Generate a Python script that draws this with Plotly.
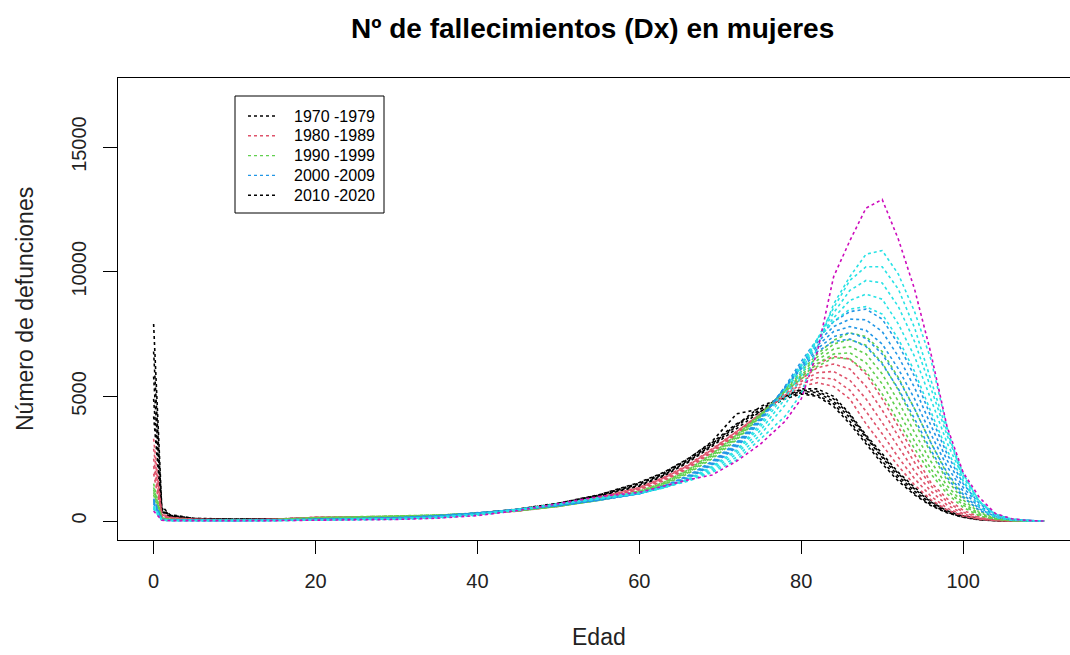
import plotly.graph_objects as go

# Ages (x axis, years of age)
ages = [0, 1, 2, 5, 10, 15, 20, 25, 30, 35, 40, 45, 50, 55,
        60, 63, 66, 69, 72, 75, 78,
        80, 82, 84, 86, 88, 90, 92, 94, 96, 98, 100, 102, 104, 106, 108, 110]

# Deaths (Dx) among women by age, one list per year
d1970 = [7900, 600, 260, 110, 75, 85, 110, 120, 150, 210, 320, 480, 720, 1050,
         1550, 1950, 2500, 3150, 3900, 4400, 4900,
         5100, 5000, 4600, 3900, 3100, 2300, 1600, 1050, 620, 330, 150, 50, 15, 4, 1, 0]
d1972 = [6800, 520, 230, 100, 70, 85, 115, 125, 150, 210, 315, 470, 710, 1040,
         1520, 1930, 2480, 3200, 4300, 4500, 4950,
         5150, 5050, 4700, 4000, 3200, 2400, 1700, 1100, 660, 350, 160, 55, 16, 4, 1, 0]
d1974 = [5800, 460, 210, 95, 65, 82, 118, 128, 150, 205, 310, 460, 700, 1030,
         1480, 1880, 2430, 3100, 3850, 4600, 5000,
         5200, 5150, 4800, 4150, 3350, 2550, 1800, 1200, 720, 380, 180, 65, 18, 5, 1, 0]
d1976 = [4900, 420, 195, 92, 62, 80, 120, 130, 150, 200, 305, 450, 690, 1010,
         1440, 1840, 2390, 3050, 3800, 4500, 5050,
         5250, 5200, 4900, 4250, 3400, 2600, 1900, 1280, 770, 410, 190, 70, 20, 5, 1, 0]
d1978 = [4200, 380, 180, 90, 60, 80, 120, 130, 150, 200, 300, 440, 680, 1000,
         1400, 1800, 2350, 3000, 3700, 4400, 5000,
         5300, 5300, 5000, 4300, 3450, 2700, 1950, 1350, 820, 440, 210, 80, 25, 6, 1, 0]

d1980 = [3300, 300, 150, 75, 50, 70, 140, 150, 160, 200, 290, 420, 640, 950,
         1350, 1750, 2250, 2900, 3600, 4300, 5000,
         5400, 5550, 5400, 4900, 3900, 3050, 2200, 1450, 860, 440, 190, 65, 18, 4, 1, 0]
d1982 = [2900, 260, 135, 70, 48, 68, 145, 152, 162, 202, 288, 415, 630, 935,
         1330, 1720, 2220, 2870, 3580, 4300, 5050,
         5500, 5750, 5700, 5250, 4400, 3500, 2550, 1700, 1000, 520, 230, 80, 22, 5, 1, 0]
d1984 = [2500, 230, 120, 65, 45, 65, 148, 155, 165, 205, 285, 410, 615, 915,
         1300, 1690, 2180, 2830, 3540, 4300, 5100,
         5600, 5950, 6000, 5650, 4900, 3950, 2950, 2000, 1200, 650, 290, 105, 30, 7, 1, 0]
d1986 = [2200, 200, 110, 60, 42, 62, 150, 158, 168, 208, 282, 405, 600, 890,
         1270, 1650, 2140, 2790, 3500, 4300, 5150,
         5700, 6150, 6300, 6100, 5400, 4450, 3400, 2350, 1420, 780, 360, 130, 38, 9, 2, 0]
d1988 = [1900, 180, 100, 55, 40, 60, 150, 160, 170, 210, 280, 400, 590, 870,
         1250, 1600, 2100, 2750, 3450, 4300, 5200,
         5800, 6300, 6600, 6500, 5900, 4900, 3800, 2700, 1550, 900, 430, 160, 48, 12, 2, 0]

d1990 = [1500, 130, 70, 45, 35, 58, 140, 170, 200, 240, 300, 410, 590, 850,
         1200, 1550, 2050, 2700, 3450, 4300, 5200,
         5700, 6200, 6550, 6500, 6000, 5100, 4000, 2900, 1900, 1100, 550, 210, 65, 17, 3, 0]
d1992 = [1350, 120, 65, 42, 33, 55, 135, 165, 195, 238, 305, 415, 592, 845,
         1185, 1530, 2020, 2660, 3400, 4270, 5220,
         5780, 6320, 6700, 6750, 6350, 5500, 4400, 3200, 2100, 1250, 640, 250, 78, 20, 4, 0]
d1994 = [1250, 110, 60, 40, 30, 52, 125, 150, 185, 235, 310, 420, 595, 840,
         1170, 1500, 1980, 2620, 3350, 4250, 5250,
         5850, 6450, 6900, 7000, 6700, 5900, 4800, 3550, 2400, 1420, 730, 290, 90, 24, 5, 0]
d1996 = [1150, 100, 55, 36, 28, 48, 110, 135, 170, 232, 315, 425, 598, 835,
         1150, 1470, 1940, 2560, 3300, 4220, 5280,
         5920, 6580, 7100, 7280, 7050, 6350, 5250, 3950, 2750, 1650, 850, 340, 105, 28, 6, 1]
d1998 = [1050, 90, 50, 33, 25, 45, 100, 120, 160, 230, 320, 430, 600, 830,
         1130, 1450, 1900, 2500, 3250, 4200, 5300,
         6000, 6700, 7250, 7550, 7400, 6800, 5750, 4500, 3150, 1900, 990, 400, 125, 33, 7, 1]

d2000 = [900, 75, 40, 28, 22, 40, 90, 105, 140, 220, 330, 450, 610, 830,
         1100, 1400, 1820, 2400, 3150, 4150, 5350,
         6100, 6800, 7200, 7300, 7000, 6300, 5300, 4100, 2850, 1750, 950, 430, 150, 45, 10, 1]
d2002 = [850, 70, 37, 26, 21, 38, 83, 98, 132, 212, 322, 455, 620, 838,
         1100, 1390, 1790, 2360, 3100, 4120, 5360,
         6170, 6920, 7400, 7550, 7330, 6700, 5700, 4500, 3150, 1950, 1070, 490, 175, 52, 12, 2]
d2004 = [800, 65, 35, 25, 20, 35, 75, 92, 125, 202, 315, 460, 630, 847,
         1100, 1380, 1760, 2320, 3060, 4080, 5370,
         6240, 7040, 7600, 7800, 7650, 7100, 6100, 4900, 3500, 2200, 1200, 550, 200, 60, 14, 2]
d2006 = [750, 60, 32, 23, 19, 32, 68, 86, 118, 192, 308, 465, 640, 858,
         1100, 1365, 1730, 2290, 3000, 4040, 5390,
         6320, 7170, 7800, 8100, 8070, 7600, 6600, 5350, 3850, 2450, 1350, 620, 230, 70, 16, 3]
d2008 = [700, 55, 30, 22, 18, 30, 60, 80, 110, 180, 300, 470, 650, 870,
         1100, 1350, 1700, 2250, 2950, 4000, 5400,
         6400, 7300, 8000, 8400, 8500, 8100, 7100, 5800, 4200, 2700, 1500, 700, 260, 80, 18, 3]

d2010 = [600, 45, 25, 18, 15, 25, 50, 65, 95, 160, 290, 470, 670, 890,
         1100, 1330, 1680, 2200, 2850, 3900, 5300,
         6300, 7300, 8000, 8500, 8600, 8300, 7300, 6000, 4400, 2850, 1600, 760, 280, 85, 20, 3]
d2012 = [560, 42, 23, 17, 14, 23, 46, 60, 88, 150, 275, 460, 672, 900,
         1110, 1335, 1660, 2150, 2780, 3800, 5100,
         6200, 7300, 8150, 8850, 9100, 8900, 7900, 6600, 4900, 3150, 1750, 800, 280, 80, 18, 3]
d2014 = [530, 40, 21, 16, 13, 21, 43, 56, 82, 140, 260, 450, 675, 915,
         1120, 1340, 1640, 2080, 2680, 3650, 4900,
         6000, 7300, 8350, 9250, 9650, 9550, 8600, 7200, 5350, 3450, 1850, 800, 260, 70, 15, 2]
d2016 = [500, 37, 19, 15, 12, 19, 40, 52, 76, 130, 245, 435, 678, 930,
         1135, 1345, 1620, 2010, 2560, 3480, 4650,
         5800, 7300, 8550, 9650, 10200, 10200, 9300, 7750, 5650, 3600, 1900, 780, 230, 60, 12, 2]
d2018 = [480, 35, 18, 14, 12, 18, 38, 50, 70, 120, 230, 420, 680, 950,
         1150, 1350, 1600, 1950, 2450, 3300, 4200,
         5100, 7000, 8700, 9800, 10700, 10850, 9900, 8400, 6500, 3760, 1600, 560, 140, 35, 8, 1]

d2020 = [400, 30, 16, 13, 11, 17, 35, 45, 65, 115, 220, 420, 700, 980,
         1150, 1400, 1650, 1850, 2400, 3100, 4000,
         4900, 6800, 9800, 11240, 12550, 12900, 11300, 9300, 6750, 3800, 1950, 950, 300, 90, 20, 0]

# Axis ticks
x_ticks = [0, 20, 40, 60, 80, 100]
y_ticks = [0, 5000, 10000, 15000]
y_tick_labels = ["0", "5000", "10000", "15000"]

# Legend entries (labels and sample colours)
legend_labels = ["1970 -1979", "1980 -1989", "1990 -1999", "2000 -2009", "2010 -2020"]
legend_colors = ["#000000", "#DF536B", "#61D04F", "#2297E6", "#000000"]

# Line colour for each block of years
line_colors = {1970: "#000000", 1980: "#DF536B", 1990: "#61D04F",
               2000: "#2297E6", 2010: "#28E2E5", 2020: "#CD0BBC"}

series = [
    (1970, d1970), (1972, d1972), (1974, d1974), (1976, d1976), (1978, d1978),
    (1980, d1980), (1982, d1982), (1984, d1984), (1986, d1986), (1988, d1988),
    (1990, d1990), (1992, d1992), (1994, d1994), (1996, d1996), (1998, d1998),
    (2000, d2000), (2002, d2002), (2004, d2004), (2006, d2006), (2008, d2008),
    (2010, d2010), (2012, d2012), (2014, d2014), (2016, d2016), (2018, d2018),
    (2020, d2020),
]

FONT = "Liberation Sans, Arial, Helvetica, sans-serif"
W, H = 1070, 655
ML, MR, MT, MB = 118, 0, 78, 115
PW, PH = W - ML - MR, H - MT - MB


def xp(px):
    return (px - ML) / PW


def yp(py):
    return (H - MB - py) / PH


fig = go.Figure()
for year, vals in series:
    block = 2020 if year == 2020 else (year // 10) * 10
    fig.add_trace(go.Scatter(
        x=ages, y=vals, mode="lines", name=str(year), showlegend=False,
        line=dict(color=line_colors[block], width=1.6, dash="dot"),
        hoverinfo="skip",
    ))

shapes = [dict(type="rect", xref="paper", yref="paper",
               x0=xp(235), x1=xp(384), y0=yp(213), y1=yp(96),
               line=dict(color="black", width=1), fillcolor="white", layer="above")]
annotations = []
for i, (lab, col) in enumerate(zip(legend_labels, legend_colors)):
    yy = 116 + i * 19.8
    shapes.append(dict(type="line", xref="paper", yref="paper",
                       x0=xp(248), x1=xp(276), y0=yp(yy), y1=yp(yy),
                       line=dict(color=col, width=1.4, dash="dot"), layer="above"))
    annotations.append(dict(text=lab, xref="paper", yref="paper",
                            x=xp(292), y=yp(yy), xanchor="left", yanchor="middle",
                            showarrow=False, font=dict(family=FONT, size=16, color="black")))

annotations += [
    dict(text="<b>Nº de fallecimientos (Dx) en mujeres</b>", xref="paper", yref="paper",
         x=xp(592), y=yp(28), xanchor="center", yanchor="middle", showarrow=False,
         font=dict(family=FONT, size=28, color="black")),
    dict(text="Edad", xref="paper", yref="paper", x=xp(599), y=yp(637),
         xanchor="center", yanchor="middle", showarrow=False,
         font=dict(family=FONT, size=23, color="#222222")),
    dict(text="Número de defunciones", xref="paper", yref="paper", x=xp(25), y=yp(309),
         xanchor="center", yanchor="middle", showarrow=False, textangle=-90,
         font=dict(family=FONT, size=23, color="#222222")),
]

fig.update_layout(
    width=W, height=H,
    margin=dict(l=ML, r=MR, t=MT, b=MB, pad=0),
    paper_bgcolor="white", plot_bgcolor="white",
    shapes=shapes, annotations=annotations,
    xaxis=dict(range=[-4.4, 113.2], tickvals=x_ticks,
               ticktext=[str(v) for v in x_ticks],
               ticks="outside", ticklen=13, tickwidth=1, tickcolor="black",
               showline=True, linecolor="black", linewidth=1, mirror=True,
               showgrid=False, zeroline=False, ticklabelstandoff=10,
               tickfont=dict(family=FONT, size=20, color="#222222")),
    yaxis=dict(range=[-760, 17770], tickvals=y_ticks, ticktext=y_tick_labels,
               ticks="outside", ticklen=14, tickwidth=1, tickcolor="black",
               showline=True, linecolor="black", linewidth=1, mirror=False,
               showgrid=False, zeroline=False, tickangle=-90, ticklabelstandoff=9,
               tickfont=dict(family=FONT, size=20, color="#222222")),
)

fig.write_html("out.html")
